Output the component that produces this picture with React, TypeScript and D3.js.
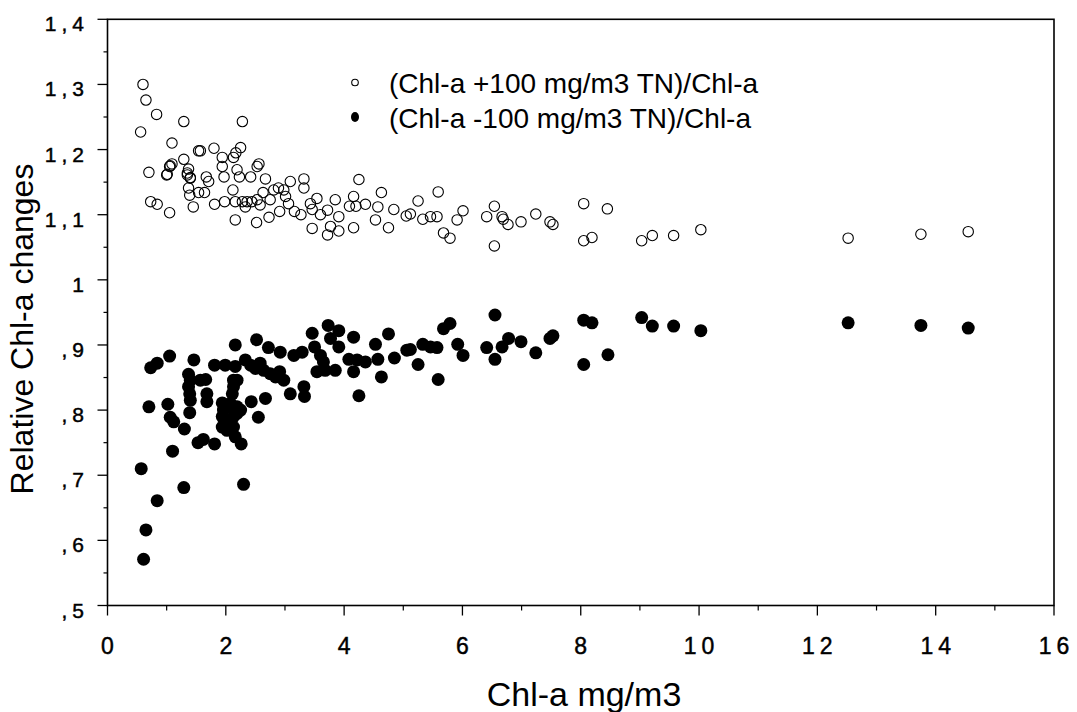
import React from "react";
import * as d3 from "d3";

// (Chl-a +100 mg/m3 TN)/Chl-a  — [Chl-a, ratio]
const plusPoints: [number, number][] = [
  [0.60, 1.300], [0.65, 1.276], [0.83, 1.254], [0.56, 1.227], [1.29, 1.243], [2.28, 1.243],
  [1.09, 1.210], [1.54, 1.198], [1.57, 1.198], [1.80, 1.202], [2.25, 1.203], [2.17, 1.195],
  [2.13, 1.188], [1.29, 1.185], [0.70, 1.165], [1.09, 1.178], [1.05, 1.174], [1.00, 1.161],
  [1.37, 1.170], [1.35, 1.161], [1.40, 1.157], [1.67, 1.158], [1.94, 1.188], [1.94, 1.174],
  [1.97, 1.158], [2.19, 1.169], [2.23, 1.158], [2.42, 1.158], [2.53, 1.174], [2.56, 1.178],
  [2.67, 1.155], [0.73, 1.120], [0.84, 1.116], [1.05, 1.103], [1.45, 1.112], [1.37, 1.141],
  [1.39, 1.130], [1.54, 1.134], [1.64, 1.134], [1.71, 1.151], [1.81, 1.116], [1.98, 1.120],
  [2.12, 1.138], [2.16, 1.120], [2.28, 1.120], [2.36, 1.120], [2.44, 1.120], [2.53, 1.123],
  [2.33, 1.112], [2.16, 1.092], [2.52, 1.088], [2.73, 1.096], [2.58, 1.115], [2.63, 1.134],
  [2.75, 1.123], [2.81, 1.138], [2.89, 1.141], [2.98, 1.138], [2.91, 1.105], [3.01, 1.128],
  [3.06, 1.117], [3.09, 1.151], [3.16, 1.105], [3.27, 1.100], [3.32, 1.155], [3.32, 1.141],
  [3.43, 1.117], [3.46, 1.108], [3.46, 1.079], [3.54, 1.125], [3.60, 1.100], [3.72, 1.107],
  [3.72, 1.069], [3.77, 1.082], [3.85, 1.123], [3.91, 1.097], [3.91, 1.075], [4.09, 1.113],
  [4.20, 1.113], [4.16, 1.128], [4.16, 1.080], [4.25, 1.154], [4.36, 1.116], [4.53, 1.092],
  [4.57, 1.112], [4.63, 1.134], [4.75, 1.080], [4.84, 1.108], [5.05, 1.098], [5.12, 1.101],
  [5.25, 1.121], [5.33, 1.093], [5.46, 1.097], [5.57, 1.097], [5.59, 1.135], [5.68, 1.072],
  [5.79, 1.064], [5.91, 1.092], [6.01, 1.106], [6.41, 1.097], [6.54, 1.113], [6.67, 1.097],
  [6.69, 1.093], [6.77, 1.085], [6.54, 1.052], [6.99, 1.089], [7.24, 1.101], [7.48, 1.089],
  [7.53, 1.085], [8.05, 1.117], [8.45, 1.109], [8.05, 1.060], [8.19, 1.065], [9.03, 1.060],
  [9.21, 1.068], [9.57, 1.068], [10.03, 1.077], [12.52, 1.064], [13.75, 1.070], [14.55, 1.074],
  [1.01, 1.162], [1.06, 1.175], [1.35, 1.164], [1.40, 1.156],
];

// (Chl-a -100 mg/m3 TN)/Chl-a  — [Chl-a, ratio]
const minusPoints: [number, number][] = [
  [0.57, 0.710], [0.84, 0.661], [0.65, 0.616], [0.61, 0.571], [1.29, 0.681], [2.30, 0.686],
  [1.10, 0.737], [0.70, 0.805], [0.73, 0.865], [0.84, 0.872], [1.05, 0.883], [1.02, 0.809],
  [1.06, 0.789], [1.12, 0.782], [1.30, 0.771], [1.53, 0.750], [1.62, 0.755], [1.81, 0.748],
  [1.37, 0.855], [1.40, 0.846], [1.37, 0.836], [1.39, 0.825], [1.40, 0.815], [1.39, 0.796],
  [1.57, 0.846], [1.66, 0.847], [1.68, 0.825], [1.68, 0.813], [1.46, 0.877], [1.81, 0.869],
  [1.99, 0.869], [2.16, 0.867], [2.16, 0.900], [2.13, 0.846], [2.19, 0.846], [2.13, 0.836],
  [2.11, 0.825], [1.94, 0.811], [1.96, 0.800], [2.02, 0.805], [2.08, 0.810], [2.19, 0.805],
  [2.25, 0.800], [1.94, 0.790], [2.02, 0.784], [2.13, 0.790], [2.19, 0.795], [1.94, 0.774],
  [2.02, 0.769], [2.13, 0.774], [2.16, 0.759], [2.26, 0.748], [2.43, 0.813], [2.55, 0.789],
  [2.67, 0.818], [2.33, 0.877], [2.42, 0.869], [2.50, 0.864], [2.58, 0.872], [2.64, 0.861],
  [2.75, 0.856], [2.84, 0.851], [2.52, 0.908], [2.72, 0.896], [2.92, 0.889], [2.91, 0.859],
  [2.98, 0.846], [3.09, 0.825], [3.15, 0.884], [3.29, 0.889], [3.32, 0.836], [3.33, 0.821],
  [3.46, 0.918], [3.50, 0.897], [3.60, 0.884], [3.65, 0.874], [3.54, 0.859], [3.68, 0.861],
  [3.85, 0.861], [3.73, 0.930], [3.91, 0.922], [3.77, 0.910], [3.91, 0.897], [4.16, 0.912],
  [4.08, 0.878], [4.22, 0.877], [4.36, 0.874], [4.16, 0.859], [4.25, 0.822], [4.53, 0.901],
  [4.57, 0.878], [4.63, 0.851], [4.75, 0.917], [4.85, 0.880], [5.06, 0.892], [5.12, 0.893],
  [5.25, 0.870], [5.33, 0.901], [5.46, 0.897], [5.57, 0.896], [5.59, 0.847], [5.68, 0.925],
  [5.79, 0.933], [5.92, 0.901], [6.01, 0.884], [6.41, 0.896], [6.55, 0.946], [6.55, 0.878],
  [6.67, 0.897], [6.78, 0.910], [6.99, 0.905], [7.24, 0.888], [7.48, 0.910], [7.53, 0.914],
  [8.05, 0.938], [8.19, 0.934], [8.05, 0.870], [8.46, 0.885], [9.03, 0.942], [9.21, 0.929],
  [9.57, 0.929], [10.03, 0.922], [12.52, 0.934], [13.75, 0.930], [14.55, 0.926],
];

const xTicks = [0, 2, 4, 6, 8, 10, 12, 14, 16];
const xMinorTicks = [1, 3, 5, 7, 9, 11, 13, 15];
const yTicks = [1.4, 1.3, 1.2, 1.1, 1.0, 0.9, 0.8, 0.7, 0.6, 0.5];
const yTickLabels = ["1,4", "1,3", "1,2", "1,1", "1", ",9", ",8", ",7", ",6", ",5"];
const yMinorTicks = [1.35, 1.25, 1.15, 1.05, 0.95, 0.85, 0.75, 0.65, 0.55];
const legendLabels = ["(Chl-a +100 mg/m3 TN)/Chl-a", "(Chl-a -100 mg/m3 TN)/Chl-a"];
const xTitle = "Chl-a mg/m3";
const yTitle = "Relative Chl-a changes";

const FONT = "'Liberation Sans', Arial, Helvetica, sans-serif";

export default function App() {
  const W = 1077;
  const H = 712;
  const left = 107.5, right = 1054, top = 19.3, bottom = 605.5;
  const x = d3.scaleLinear().domain([0, 16]).range([left, right]);
  const y = d3.scaleLinear().domain([0.5, 1.4]).range([bottom, top]);
  const heavy = { stroke: "#000", strokeWidth: 0.45 };

  return (
    <svg
      width={W}
      height={H}
      style={{ position: "absolute", left: 0, top: 0, background: "#fff" }}
      fontFamily={FONT}
    >
      <rect x={0} y={0} width={W} height={H} fill="#fff" />
      {/* frame */}
      <rect x={left} y={top} width={right - left} height={bottom - top} fill="none" stroke="#000" strokeWidth={1.6} />

      {/* y ticks */}
      {yTicks.map((t, i) => (
        <g key={"yt" + i}>
          <line x1={left - 10} x2={left} y1={y(t)} y2={y(t)} stroke="#000" strokeWidth={1.3} />
          <text x={89} y={y(t) + 12} textAnchor="end" fontSize={21} letterSpacing={5} fill="#000" {...heavy}>
            {yTickLabels[i]}
          </text>
        </g>
      ))}
      {yMinorTicks.map((t, i) => (
        <line key={"ym" + i} x1={left - 4} x2={left} y1={y(t)} y2={y(t)} stroke="#000" strokeWidth={1.2} />
      ))}

      {/* x ticks */}
      {xTicks.map((t, i) => (
        <g key={"xt" + i}>
          <line x1={x(t)} x2={x(t)} y1={bottom} y2={bottom + 10} stroke="#000" strokeWidth={1.3} />
          <text x={x(t) + 2.5} y={654} textAnchor="middle" fontSize={23} letterSpacing={5} fill="#000" {...heavy}>
            {String(t)}
          </text>
        </g>
      ))}
      {xMinorTicks.map((t, i) => (
        <line key={"xm" + i} x1={x(t)} x2={x(t)} y1={bottom} y2={bottom + 5} stroke="#000" strokeWidth={1.2} />
      ))}

      {/* axis titles */}
      <text x={584} y={706} textAnchor="middle" fontSize={34} fill="#000">{xTitle}</text>
      <text
        transform={`translate(33, 329) rotate(-90)`}
        textAnchor="middle"
        fontSize={32}
        fill="#000"
      >
        {yTitle}
      </text>

      {/* data */}
      {plusPoints.map((d, i) => (
        <circle key={"p" + i} cx={x(d[0])} cy={y(d[1])} r={5.2} fill="none" stroke="#000" strokeWidth={1.1} />
      ))}
      {minusPoints.map((d, i) => (
        <circle key={"m" + i} cx={x(d[0])} cy={y(d[1])} r={6.5} fill="#000" />
      ))}

      {/* legend */}
      <circle cx={355} cy={82.5} r={3.3} fill="none" stroke="#000" strokeWidth={1.1} />
      <ellipse cx={355} cy={117} rx={4} ry={5} fill="#000" />
      <text x={389} y={93} fontSize={28} fill="#000">{legendLabels[0]}</text>
      <text x={389} y={128} fontSize={28} fill="#000">{legendLabels[1]}</text>
    </svg>
  );
}
